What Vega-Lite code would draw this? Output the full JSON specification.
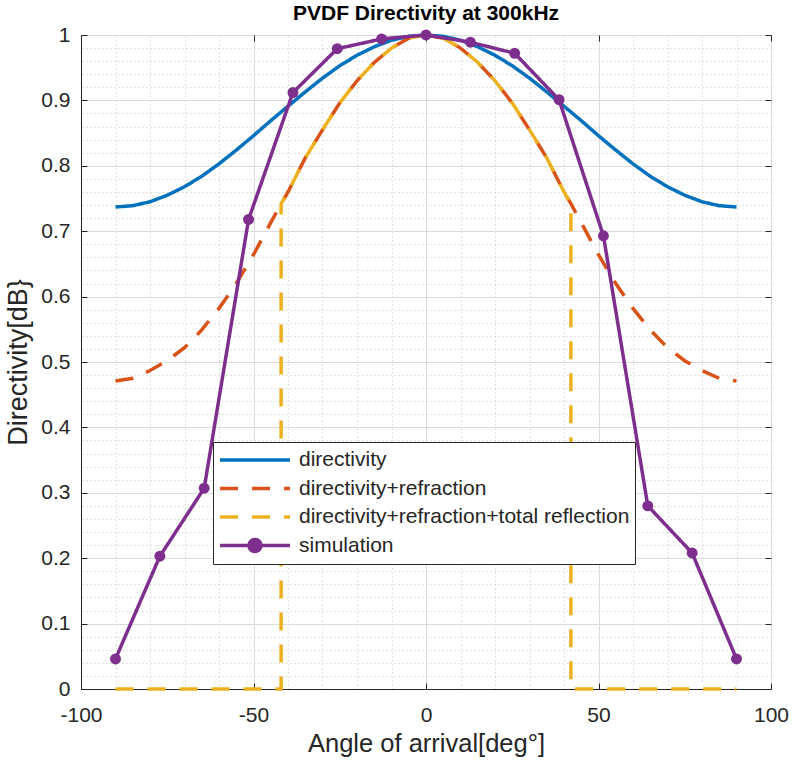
{
  "$schema": "https://vega.github.io/schema/vega-lite/v6.json",
  "autosize": "none",
  "width": 690,
  "height": 654,
  "padding": {"left": 81, "top": 35, "right": 24, "bottom": 74},
  "background": "white",
  "config": {
    "font": "Liberation Sans",
    "view": {"stroke": "#262626", "strokeWidth": 1},
    "axis": {"labelFont": "Liberation Sans", "titleFont": "Liberation Sans", "labelFlush": false}
  },
  "title": {"text": "PVDF Directivity at 300kHz", "fontSize": 21, "fontWeight": "bold", "color": "#000000", "font": "Liberation Sans", "offset": 0, "anchor": "middle"},
  "datasets": {
    "curves": [
      {"series": "directivity", "angle": -90, "value": 0.737},
      {"series": "directivity", "angle": -85, "value": 0.739},
      {"series": "directivity", "angle": -80, "value": 0.745},
      {"series": "directivity", "angle": -75, "value": 0.755},
      {"series": "directivity", "angle": -70, "value": 0.768},
      {"series": "directivity", "angle": -65, "value": 0.784},
      {"series": "directivity", "angle": -60, "value": 0.803},
      {"series": "directivity", "angle": -55, "value": 0.824},
      {"series": "directivity", "angle": -50, "value": 0.846},
      {"series": "directivity", "angle": -45, "value": 0.869},
      {"series": "directivity", "angle": -40, "value": 0.891},
      {"series": "directivity", "angle": -35, "value": 0.913},
      {"series": "directivity", "angle": -30, "value": 0.934},
      {"series": "directivity", "angle": -25, "value": 0.953},
      {"series": "directivity", "angle": -20, "value": 0.969},
      {"series": "directivity", "angle": -15, "value": 0.982},
      {"series": "directivity", "angle": -10, "value": 0.992},
      {"series": "directivity", "angle": -5, "value": 0.998},
      {"series": "directivity", "angle": 0, "value": 1.0},
      {"series": "directivity", "angle": 5, "value": 0.998},
      {"series": "directivity", "angle": 10, "value": 0.992},
      {"series": "directivity", "angle": 15, "value": 0.982},
      {"series": "directivity", "angle": 20, "value": 0.969},
      {"series": "directivity", "angle": 25, "value": 0.953},
      {"series": "directivity", "angle": 30, "value": 0.934},
      {"series": "directivity", "angle": 35, "value": 0.913},
      {"series": "directivity", "angle": 40, "value": 0.891},
      {"series": "directivity", "angle": 45, "value": 0.869},
      {"series": "directivity", "angle": 50, "value": 0.846},
      {"series": "directivity", "angle": 55, "value": 0.824},
      {"series": "directivity", "angle": 60, "value": 0.803},
      {"series": "directivity", "angle": 65, "value": 0.784},
      {"series": "directivity", "angle": 70, "value": 0.768},
      {"series": "directivity", "angle": 75, "value": 0.755},
      {"series": "directivity", "angle": 80, "value": 0.745},
      {"series": "directivity", "angle": 85, "value": 0.739},
      {"series": "directivity", "angle": 90, "value": 0.737},
      {"series": "directivity+refraction", "angle": -90, "value": 0.471},
      {"series": "directivity+refraction", "angle": -85, "value": 0.475},
      {"series": "directivity+refraction", "angle": -80, "value": 0.487},
      {"series": "directivity+refraction", "angle": -75, "value": 0.502},
      {"series": "directivity+refraction", "angle": -70, "value": 0.522},
      {"series": "directivity+refraction", "angle": -65, "value": 0.549},
      {"series": "directivity+refraction", "angle": -60, "value": 0.582},
      {"series": "directivity+refraction", "angle": -55, "value": 0.62},
      {"series": "directivity+refraction", "angle": -50, "value": 0.664},
      {"series": "directivity+refraction", "angle": -45, "value": 0.713},
      {"series": "directivity+refraction", "angle": -42, "value": 0.742},
      {"series": "directivity+refraction", "angle": -40, "value": 0.76},
      {"series": "directivity+refraction", "angle": -35, "value": 0.812},
      {"series": "directivity+refraction", "angle": -30, "value": 0.855},
      {"series": "directivity+refraction", "angle": -25, "value": 0.896},
      {"series": "directivity+refraction", "angle": -20, "value": 0.93},
      {"series": "directivity+refraction", "angle": -15, "value": 0.958},
      {"series": "directivity+refraction", "angle": -10, "value": 0.98},
      {"series": "directivity+refraction", "angle": -5, "value": 0.995},
      {"series": "directivity+refraction", "angle": 0, "value": 1.0},
      {"series": "directivity+refraction", "angle": 5, "value": 0.995},
      {"series": "directivity+refraction", "angle": 10, "value": 0.98},
      {"series": "directivity+refraction", "angle": 15, "value": 0.958},
      {"series": "directivity+refraction", "angle": 20, "value": 0.93},
      {"series": "directivity+refraction", "angle": 25, "value": 0.896},
      {"series": "directivity+refraction", "angle": 30, "value": 0.855},
      {"series": "directivity+refraction", "angle": 35, "value": 0.812},
      {"series": "directivity+refraction", "angle": 40, "value": 0.76},
      {"series": "directivity+refraction", "angle": 42, "value": 0.742},
      {"series": "directivity+refraction", "angle": 45, "value": 0.713},
      {"series": "directivity+refraction", "angle": 50, "value": 0.664},
      {"series": "directivity+refraction", "angle": 55, "value": 0.62},
      {"series": "directivity+refraction", "angle": 60, "value": 0.582},
      {"series": "directivity+refraction", "angle": 65, "value": 0.549},
      {"series": "directivity+refraction", "angle": 70, "value": 0.522},
      {"series": "directivity+refraction", "angle": 75, "value": 0.502},
      {"series": "directivity+refraction", "angle": 80, "value": 0.487},
      {"series": "directivity+refraction", "angle": 85, "value": 0.475},
      {"series": "directivity+refraction", "angle": 90, "value": 0.471},
      {"series": "directivity+refraction+total reflection", "angle": -90, "value": 0},
      {"series": "directivity+refraction+total reflection", "angle": -42, "value": 0},
      {"series": "directivity+refraction+total reflection", "angle": -42, "value": 0.742},
      {"series": "directivity+refraction+total reflection", "angle": -40, "value": 0.76},
      {"series": "directivity+refraction+total reflection", "angle": -35, "value": 0.812},
      {"series": "directivity+refraction+total reflection", "angle": -30, "value": 0.855},
      {"series": "directivity+refraction+total reflection", "angle": -25, "value": 0.896},
      {"series": "directivity+refraction+total reflection", "angle": -20, "value": 0.93},
      {"series": "directivity+refraction+total reflection", "angle": -15, "value": 0.958},
      {"series": "directivity+refraction+total reflection", "angle": -10, "value": 0.98},
      {"series": "directivity+refraction+total reflection", "angle": -5, "value": 0.995},
      {"series": "directivity+refraction+total reflection", "angle": 0, "value": 1.0},
      {"series": "directivity+refraction+total reflection", "angle": 5, "value": 0.995},
      {"series": "directivity+refraction+total reflection", "angle": 10, "value": 0.98},
      {"series": "directivity+refraction+total reflection", "angle": 15, "value": 0.958},
      {"series": "directivity+refraction+total reflection", "angle": 20, "value": 0.93},
      {"series": "directivity+refraction+total reflection", "angle": 25, "value": 0.896},
      {"series": "directivity+refraction+total reflection", "angle": 30, "value": 0.855},
      {"series": "directivity+refraction+total reflection", "angle": 35, "value": 0.812},
      {"series": "directivity+refraction+total reflection", "angle": 40, "value": 0.76},
      {"series": "directivity+refraction+total reflection", "angle": 42, "value": 0.742},
      {"series": "directivity+refraction+total reflection", "angle": 42, "value": 0},
      {"series": "directivity+refraction+total reflection", "angle": 90, "value": 0}
    ],
    "sim": [
      {"series": "simulation", "angle": -90, "value": 0.046},
      {"series": "simulation", "angle": -77.14, "value": 0.203},
      {"series": "simulation", "angle": -64.29, "value": 0.307},
      {"series": "simulation", "angle": -51.43, "value": 0.718},
      {"series": "simulation", "angle": -38.57, "value": 0.912},
      {"series": "simulation", "angle": -25.71, "value": 0.979},
      {"series": "simulation", "angle": -12.86, "value": 0.994},
      {"series": "simulation", "angle": 0, "value": 1.0},
      {"series": "simulation", "angle": 12.86, "value": 0.989},
      {"series": "simulation", "angle": 25.71, "value": 0.972},
      {"series": "simulation", "angle": 38.57, "value": 0.901},
      {"series": "simulation", "angle": 51.43, "value": 0.693},
      {"series": "simulation", "angle": 64.29, "value": 0.28},
      {"series": "simulation", "angle": 77.14, "value": 0.208},
      {"series": "simulation", "angle": 90, "value": 0.046}
    ]
  },
  "layer": [
    {
      "data": {"name": "curves"},
      "mark": {"type": "line", "strokeWidth": 3.5, "strokeCap": "butt"},
      "encoding": {
        "x": {"field": "angle", "type": "quantitative", "scale": {"domain": [-100, 100], "nice": false, "zero": false},
          "axis": {"orient": "bottom", "title": "Angle of arrival[deg°]", "values": [-100, -50, 0, 50, 100], "labelExpr": "'' + datum.value", "labelFlush": false,
            "labelFontSize": 21, "labelColor": "#262626", "labelPadding": 21, "tickSize": -6, "tickColor": "#262626", "domainColor": "#262626",
            "grid": true, "gridColor": "#dcdcdc", "gridWidth": 1, "titleFontSize": 25.5, "titleFontWeight": "normal", "titleColor": "#262626", "titlePadding": 6}},
        "y": {"field": "value", "type": "quantitative", "scale": {"domain": [0, 1], "nice": false},
          "axis": {"orient": "left", "title": "Directivity[dB}", "values": [0, 0.1, 0.2, 0.3, 0.4, 0.5, 0.6, 0.7, 0.8, 0.9, 1], "labelExpr": "'' + datum.value", "labelFlush": false,
            "labelFontSize": 21, "labelColor": "#262626", "labelPadding": 17, "tickSize": -6, "tickColor": "#262626", "domainColor": "#262626",
            "grid": true, "gridColor": "#dcdcdc", "gridWidth": 1, "titleFontSize": 27, "titleFontWeight": "normal", "titleColor": "#262626", "titlePadding": 8}},
        "color": {"field": "series", "type": "nominal",
          "scale": {"domain": ["directivity", "directivity+refraction", "directivity+refraction+total reflection", "simulation"], "range": ["#0072BD", "#D95319", "#EDB120", "#7E2F8E"]},
          "legend": {"orient": "none", "legendX": 132, "legendY": 407, "title": null, "symbolType": "stroke", "symbolSize": 4900, "symbolStrokeWidth": 3.5,
            "clipHeight": 26, "rowPadding": 2.5, "labelFontSize": 21, "labelColor": "#262626", "labelFont": "Liberation Sans", "labelOffset": 7, "labelLimit": 0,
            "fillColor": "white", "strokeColor": "#262626", "padding": 5,
            "encode": {"symbols": {"update": {
              "shape": {"signal": "datum.value === 'simulation' ? 'M-1,0H1M-0.17,0A0.17,0.17 0 1,1 0.17,0A0.17,0.17 0 1,1 -0.17,0Z' : 'stroke'"},
              "fill": {"signal": "datum.value === 'simulation' ? '#7E2F8E' : 'transparent'"}}}}}},
        "strokeDash": {"field": "series", "type": "nominal",
          "scale": {"domain": ["directivity", "directivity+refraction", "directivity+refraction+total reflection", "simulation"], "range": [[1, 0], [18, 14], [18, 14], [1, 0]]},
          "legend": {"orient": "none", "legendX": 132, "legendY": 407, "title": null}}
      }
    },
    {
      "data": {"name": "sim"},
      "mark": {"type": "line", "strokeWidth": 3.5},
      "encoding": {
        "x": {"field": "angle", "type": "quantitative",
          "axis": {"orient": "top", "title": null, "values": [-90, -80, -70, -60, -40, -30, -20, -10, 10, 20, 30, 40, 60, 70, 80, 90], "labels": false, "ticks": false, "domain": false,
            "grid": true, "gridColor": "#c4c4c4", "gridDash": [1, 3], "gridWidth": 1}},
        "y": {"field": "value", "type": "quantitative",
          "axis": {"orient": "right", "title": null, "values": [0.02, 0.04, 0.06, 0.08, 0.12, 0.14, 0.16, 0.18, 0.22, 0.24, 0.26, 0.28, 0.32, 0.34, 0.36, 0.38, 0.42, 0.44, 0.46, 0.48, 0.52, 0.54, 0.56, 0.58, 0.62, 0.64, 0.66, 0.68, 0.72, 0.74, 0.76, 0.78, 0.82, 0.84, 0.86, 0.88, 0.92, 0.94, 0.96, 0.98],
            "labels": false, "ticks": false, "domain": false, "grid": true, "gridColor": "#c4c4c4", "gridDash": [1, 3], "gridWidth": 1}},
        "color": {"field": "series", "type": "nominal"},
        "strokeDash": {"field": "series", "type": "nominal"}
      }
    },
    {
      "data": {"name": "sim"},
      "mark": {"type": "point", "filled": true, "size": 120, "opacity": 1, "color": "#7E2F8E"},
      "encoding": {
        "x": {"field": "angle", "type": "quantitative",
          "axis": {"orient": "top", "title": null, "values": [-100, -50, 0, 50, 100], "labels": false, "ticks": true, "tickSize": -6, "tickColor": "#262626", "domain": false, "grid": false}},
        "y": {"field": "value", "type": "quantitative",
          "axis": {"orient": "right", "title": null, "values": [0, 0.1, 0.2, 0.3, 0.4, 0.5, 0.6, 0.7, 0.8, 0.9, 1], "labels": false, "ticks": true, "tickSize": -6, "tickColor": "#262626", "domain": false, "grid": false}}
      }
    }
  ],
  "resolve": {"axis": {"x": "independent", "y": "independent"}}
}
